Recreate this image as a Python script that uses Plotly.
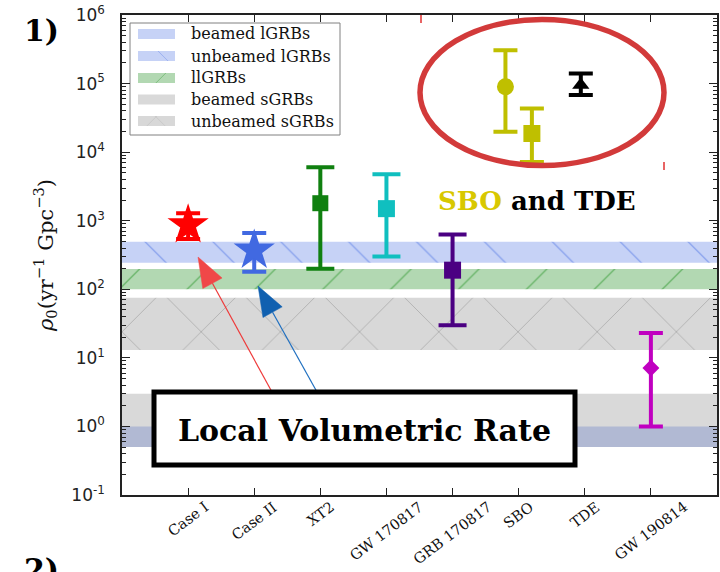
import math
import plotly.graph_objects as go

# ---------------- data ----------------
categories = ["Case I", "Case II", "XT2", "GW 170817", "GRB 170817", "SBO", "TDE", "GW 190814"]

y_tick_vals = [0.1, 1, 10, 100, 1e3, 1e4, 1e5, 1e6]
y_tick_text = ["10<sup>-1</sup>", "10<sup>0</sup>", "10<sup>1</sup>", "10<sup>2</sup>",
               "10<sup>3</sup>", "10<sup>4</sup>", "10<sup>5</sup>", "10<sup>6</sup>"]

point_cat = ["Case I", "Case II", "XT2", "GW 170817", "GRB 170817", "SBO", "SBO", "TDE", "GW 190814"]
point_val = [870, 370, 1800, 1500, 190, 90000, 18700, 95000, 7.1]
point_lo = [540, 180, 200, 300, 30, 19800, 7200, 68000, 1.0]
point_hi = [1290, 660, 6000, 4750, 630, 307000, 43400, 140000, 23]

band_names = ["beamed lGRBs", "unbeamed lGRBs", "llGRBs", "beamed sGRBs", "unbeamed sGRBs"]
band_lo = [0.5, 243, 100, 0.5, 13]
band_hi = [1.0, 493, 197, 3.0, 75]

# ---------------- styles ----------------
point_color = ["#ff0000", "#4169e1", "#108010", "#10bfbf", "#4b0082", "#bfbf00", "#bfbf00", "#000000", "#c000c0"]
point_symbol = ["star", "star", "square", "square", "square", "circle", "square", "triangle-up", "diamond"]
point_size = [31, 31, 16, 17, 17, 17, 17, 15, 13]
point_dx = [0, 0, 0, 0, 0, -0.2, 0.2, -0.06, 0]
point_cap = [12, 12, 14, 14, 14, 12, 12, 12, 12]

band_fill = ["rgba(65,105,225,0.3)", "rgba(65,105,225,0.3)", "rgba(0,128,0,0.3)",
             "rgba(128,128,128,0.3)", "rgba(128,128,128,0.3)"]
band_shape = ["", "\\", "/", "", "x"]
band_fg = ["", "rgba(65,105,225,0.55)", "rgba(0,128,0,0.5)", "", "rgba(100,100,100,0.45)"]
band_psize = [0, 48, 48, 0, 56]

W, H = 720, 572
ML, MR, MT, MB = 122, 3, 15, 77
PW, PH = W - ML - MR, H - MT - MB
X_RANGE = [0, len(categories) + 1]
Y_LOG_RANGE = [-1, 6]


def px(x):
    return (x - ML) / PW


def py(y):
    return (H - MB - y) / PH


def dx_(x):  # pixel -> data x (for legend decorations)
    return X_RANGE[0] + px(x) * (X_RANGE[1] - X_RANGE[0])


def dy_(y):  # pixel -> data y (log axis)
    return 10 ** (Y_LOG_RANGE[0] + py(y) * (Y_LOG_RANGE[1] - Y_LOG_RANGE[0]))


def pattern(i, size=None):
    if not band_shape[i]:
        return None
    return dict(shape=band_shape[i], fgcolor=band_fg[i], bgcolor=band_fill[i],
                size=size or band_psize[i], solidity=0.025, fillmode="replace")


fig = go.Figure()

# bands
for i, (name, lo, hi) in enumerate(zip(band_names, band_lo, band_hi)):
    kw = {}
    if pattern(i):
        kw["fillpattern"] = pattern(i)
    fig.add_trace(go.Scatter(
        x=[X_RANGE[0], X_RANGE[1], X_RANGE[1], X_RANGE[0], X_RANGE[0]],
        y=[lo, lo, hi, hi, lo],
        mode="none", fill="toself", fillcolor=band_fill[i], name=name,
        hoverinfo="skip", showlegend=False, **kw))

# custom legend: swatches (filled traces) + labels
legend_rows_y = [34, 56, 78, 99.5, 121]
for i, name in enumerate(band_names):
    yc = legend_rows_y[i]
    kw = {}
    if pattern(i):
        kw["fillpattern"] = pattern(i, size=24)
    fig.add_trace(go.Scatter(
        x=[dx_(138), dx_(175), dx_(175), dx_(138), dx_(138)],
        y=[dy_(yc + 5), dy_(yc + 5), dy_(yc - 5), dy_(yc - 5), dy_(yc + 5)],
        mode="none", fill="toself", fillcolor=band_fill[i], hoverinfo="skip",
        showlegend=False, **kw))
    fig.add_annotation(x=px(189), y=py(yc), xref="paper", yref="paper", text=name, showarrow=False,
                       xanchor="left", yanchor="middle",
                       font=dict(family="DejaVu Serif", size=16, color="#111"))

# points with error bars
for i, (c, v, lo, hi) in enumerate(zip(point_cat, point_val, point_lo, point_hi)):
    xpos = categories.index(c) + 1 + point_dx[i]
    fig.add_trace(go.Scatter(
        x=[xpos], y=[v], mode="markers", showlegend=False,
        marker=dict(symbol=point_symbol[i], size=point_size[i], color=point_color[i],
                    line=dict(width=0)),
        error_y=dict(type="data", symmetric=False, array=[hi - v], arrayminus=[v - lo],
                     thickness=4, width=point_cap[i], color=point_color[i])))

# x tick labels (rotated, centered under ticks)
for i, c in enumerate(categories):
    fig.add_annotation(x=i + 1, xref="x", y=py(496), yref="paper", text=c, showarrow=False,
                       textangle=-37, xanchor="center", yanchor="top",
                       font=dict(family="DejaVu Serif", size=14.5, color="#111"))

shapes = []
# legend frame (below traces)
shapes.append(dict(type="rect", xref="paper", yref="paper", x0=px(130), x1=px(340), y0=py(135), y1=py(23),
                   line=dict(color="#808080", width=1), fillcolor="white", layer="below"))
# red ellipse
shapes.append(dict(type="circle", xref="paper", yref="paper", x0=px(420), x1=px(664),
                   y0=py(165.5), y1=py(19.5), line=dict(color="#d23a3a", width=5.5), layer="above"))
# small red marks
shapes.append(dict(type="line", xref="paper", yref="paper", x0=px(421), x1=px(421), y0=py(15), y1=py(23),
                   line=dict(color="#e03030", width=1.5)))
shapes.append(dict(type="line", xref="paper", yref="paper", x0=px(664), x1=px(664), y0=py(162), y1=py(170),
                   line=dict(color="#e03030", width=1.5)))

# arrows (tail pixel -> head pixel)
arrows = [((272, 392), (198, 257), "#ee3a3a", "#f04848"), ((317, 392), (258, 286), "#1f6fc0", "#1060b0")]
for (tx, ty), (hx, hy), lc, hc in arrows:
    ddx, ddy = hx - tx, hy - ty
    d = math.hypot(ddx, ddy)
    ux, uy = ddx / d, ddy / d
    L, w = 30, 11
    bx, by = hx - L * ux, hy - L * uy
    nx, ny = -uy, ux
    shapes.append(dict(type="line", xref="paper", yref="paper", x0=px(tx), y0=py(ty), x1=px(bx), y1=py(by),
                       line=dict(color=lc, width=1.2), layer="above"))
    p = "M{},{} L{},{} L{},{} Z".format(px(hx), py(hy), px(bx + w * nx), py(by + w * ny),
                                        px(bx - w * nx), py(by - w * ny))
    shapes.append(dict(type="path", xref="paper", yref="paper", path=p, fillcolor=hc,
                       line=dict(color=hc, width=0.5), layer="above"))

# Local Volumetric Rate box
shapes.append(dict(type="rect", xref="paper", yref="paper", x0=px(154), x1=px(575), y0=py(465), y1=py(392),
                   line=dict(color="black", width=5), fillcolor="white", layer="above"))

fig.update_layout(shapes=shapes)

fig.add_annotation(x=px(364), y=py(430), xref="paper", yref="paper", text="<b>Local Volumetric Rate</b>",
                   showarrow=False, xanchor="center", yanchor="middle",
                   font=dict(family="DejaVu Serif", size=30, color="black"))
fig.add_annotation(x=px(537), y=py(201), xref="paper", yref="paper",
                   text="<b><span style='color:#d8c800'>SBO</span> and TDE</b>",
                   showarrow=False, xanchor="center", yanchor="middle",
                   font=dict(family="DejaVu Serif", size=26, color="black"))
fig.add_annotation(x=px(41), y=py(30), xref="paper", yref="paper", text="<b>1)</b>",
                   showarrow=False, xanchor="center", yanchor="middle",
                   font=dict(family="DejaVu Serif", size=30, color="black"))
fig.add_annotation(x=px(41), y=py(550), xref="paper", yref="paper", text="<b>2)</b>",
                   showarrow=False, xanchor="center", yanchor="top",
                   font=dict(family="DejaVu Serif", size=30, color="black"))

minor_vals = [k * 10 ** e for e in range(-1, 6) for k in range(2, 10)]

fig.update_layout(
    width=W, height=H,
    margin=dict(l=ML, r=MR, t=MT, b=MB, autoexpand=False),
    paper_bgcolor="white", plot_bgcolor="white",
    showlegend=False,
    xaxis=dict(range=X_RANGE, tickvals=list(range(1, len(categories) + 1)), showticklabels=False,
               ticks="inside", ticklen=7, tickcolor="#222", showline=True, linecolor="#222", linewidth=1.5,
               mirror="allticks", showgrid=False, zeroline=False, automargin=False),
    yaxis=dict(type="log", range=Y_LOG_RANGE, tickvals=y_tick_vals, ticktext=y_tick_text,
               ticks="inside", ticklen=8, tickcolor="#222", showline=True, linecolor="#222", linewidth=1.5,
               mirror="allticks", showgrid=False, zeroline=False, ticklabelstandoff=12, automargin=False,
               tickfont=dict(family="DejaVu Sans", size=17, color="#222"),
               minor=dict(tickvals=minor_vals, ticks="inside", ticklen=4, tickcolor="#222", showgrid=False),
               title=dict(text="<i>ρ</i><sub>0</sub>(yr<sup>−1</sup> Gpc<sup>−3</sup>)",
                          font=dict(family="DejaVu Serif", size=21, color="#111"), standoff=12)),
)

fig.write_html("out.html", config={"displayModeBar": False},
               post_script="document.body.style.margin='0';document.body.style.overflow='hidden';")
